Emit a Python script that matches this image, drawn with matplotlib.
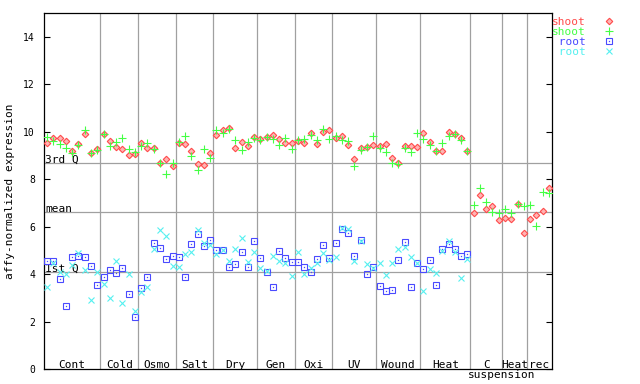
import numpy as np
import matplotlib
matplotlib.use('Agg')
import matplotlib.pyplot as plt
from matplotlib.legend_handler import HandlerTuple

plt.rcParams['font.family'] = 'DejaVu Sans Mono'

groups = ['Cont', 'Cold', 'Osmo', 'Salt', 'Dry', 'Gen', 'Oxi', 'UV', 'Wound',
          'Heat', 'C', 'Heat', 'rec']
group_sizes = [9, 6, 6, 6, 7, 6, 6, 7, 7, 8, 5, 4, 4]

shoot_a = [9.52, 9.75, 9.75, 9.60, 9.19, 9.48, 9.90, 9.10, 9.25,
           9.90, 9.60, 9.35, 9.26, 9.02, 9.07,
           9.52, 9.32, 9.31, 8.67, 8.86, 8.55,
           9.52, 9.48, 9.18, 8.63, 8.59, 9.11,
           9.88, 10.08, 10.16, 9.31, 9.56, 9.38, 9.78,
           9.69, 9.78, 9.87, 9.69, 9.52, 9.52,
           9.59, 9.52, 9.94, 9.48, 9.98, 10.08,
           9.74, 9.83, 9.43, 8.84, 9.31, 9.35, 9.43,
           9.40, 9.48, 8.90, 8.67, 9.40, 9.40, 9.36,
           9.95, 9.57, 9.19, 9.19, 9.99, 9.91, 9.74, 9.19,
           6.56, 7.32, 6.73, 6.86, 6.27,
           6.38, 6.34, 6.94, 5.72,
           6.34, 6.48, 6.66, 7.62]

shoot_b = [9.78, 9.60, 9.48, 9.32, 9.11, 9.43, 10.07, 9.10, 9.24,
           9.90, 9.40, 9.56, 9.74, 9.25, 9.14,
           9.39, 9.52, 9.26, 8.70, 8.22, 8.69,
           9.57, 9.80, 8.98, 8.38, 9.25, 8.90,
           10.07, 9.94, 10.12, 9.66, 9.22, 9.56, 9.73,
           9.64, 9.77, 9.69, 9.45, 9.74, 9.26,
           9.64, 9.69, 9.87, 9.64, 10.11, 9.69,
           9.83, 9.64, 9.60, 8.55, 9.22, 9.36, 9.81,
           9.31, 9.14, 8.67, 8.64, 9.31, 9.14, 9.94,
           9.69, 9.43, 9.19, 9.52, 9.83, 9.90, 9.64, 9.19,
           6.90, 7.62, 7.03, 6.61, 6.56,
           6.73, 6.56, 6.94, 6.86,
           6.90, 6.02, 7.45, 7.41]

nan = np.nan
root_a = [4.54, 4.54, 3.78, 2.64, 4.71, 4.78, 4.71, 4.33, 3.53,
          3.87, 4.16, 4.03, 4.24, 3.15, 2.18,
          3.40, 3.87, 5.30, 5.09, 4.62, 4.75,
          4.71, 3.87, 5.26, 5.68, 5.17, 5.43,
          5.02, 5.00, 4.29, 4.41, 4.92, 4.29, 5.38,
          4.67, 4.08, 3.44, 4.96, 4.67, 4.50,
          4.50, 4.29, 4.08, 4.62, 5.21, 4.67,
          5.30, 5.90, 5.72, 4.75, 5.43, 3.99, 4.29,
          3.49, 3.28, 3.32, 4.58, 5.34, 3.44, 4.46,
          4.20, 4.58, 3.53, 5.05, 5.26, 5.05, 4.75, 4.84,
          nan, nan, nan, nan, nan, nan, nan, nan, nan, nan, nan, nan, nan]

root_b = [3.44, 4.46, 4.08, 3.99, 4.37, 4.88, 4.16, 2.90, 4.08,
          3.57, 2.98, 4.54, 2.77, 3.99, 2.43,
          3.23, 3.44, 5.05, 5.85, 5.59, 4.33,
          4.29, 4.84, 4.92, 5.85, 5.30, 5.21,
          4.84, 5.02, 4.54, 5.05, 5.51, 4.50, 4.92,
          4.24, 4.12, 4.75, 4.54, 4.46, 3.91,
          4.92, 3.99, 4.24, 4.46, 4.88, 4.58,
          4.71, 5.93, 5.89, 4.54, 5.38, 4.41, 4.24,
          4.46, 3.95, 4.46, 5.05, 5.13, 4.71, 4.46,
          3.28, 4.20, 4.03, 4.96, 5.38, 4.92, 3.82, 4.62,
          nan, nan, nan, nan, nan, nan, nan, nan, nan, nan, nan, nan, nan]

quant_vals = [8.69, 6.61, 4.08]
quant_labels = ['3rd Q', 'mean', '1st Q']

red = '#ff4a4a'
green = '#44ff44'
blue = '#4a4aff'
cyan = '#55f0f0'
gray = '#a0a0a0'

n = len(shoot_a)
x = np.arange(n) + 0.5

fig = plt.figure(figsize=(6.4, 3.84), dpi=100)
ax = fig.add_axes([44/640, 15/384, 508/640, 356/384])

bounds = np.cumsum(group_sizes)
for b in bounds[:-1]:
    ax.axvline(b, color=gray, lw=0.9, zorder=1)
for q, lab in zip(quant_vals, quant_labels):
    ax.axhline(q, color=gray, lw=0.9, zorder=1)
    ax.text(0.002, q + 0.02, lab, transform=ax.get_yaxis_transform(),
            ha='left', va='baseline', fontsize=8, zorder=2)

# shoot / root series
h1, = ax.plot(x, shoot_a, ls='none', marker='D', ms=3.3, mfc='#ffb4b4',
              mec=red, mew=0.8, zorder=3)
h2, = ax.plot(x, shoot_b, ls='none', marker='+', ms=5.5, mec=green, mew=0.8, zorder=3)
h3, = ax.plot(x, root_a, ls='none', marker='s', ms=3.9, mfc='none',
              mec=blue, mew=0.8, zorder=3)
h3d, = ax.plot(x, root_a, ls='none', marker='s', ms=0.9, mfc=blue, mec=blue,
               mew=0, zorder=3)
h4, = ax.plot(x, root_b, ls='none', marker='x', ms=4, mec=cyan, mew=0.8, zorder=3)

starts = np.concatenate([[0], bounds[:-1]])
for s, e, g in zip(starts, bounds, groups):
    ax.text((s + e) / 2, 0.004, g, transform=ax.get_xaxis_transform(),
            ha='center', va='baseline', fontsize=8)
ax.text(bounds[9] + 5, -0.026, 'suspension', transform=ax.get_xaxis_transform(),
        ha='center', va='baseline', fontsize=8)

ax.set_xlim(0, n)
ax.set_ylim(0, 15)
ax.set_xticks([])
ax.set_yticks(range(0, 15, 2))
ax.tick_params(axis='y', direction='in', length=4.3, width=0.8, right=True,
               labelsize=7, pad=6.5)
for sp in ax.spines.values():
    sp.set_linewidth(0.9)

fig.text(10/640, 1 - 191/384, 'affy-normalized expression', rotation=90,
         ha='center', va='center', fontsize=8)

leg = ax.legend([h1, h2, (h3, h3d), h4], ['shoot', 'shoot', ' root', ' root'],
                handler_map={tuple: HandlerTuple(ndivide=1)},
                loc='upper left', bbox_to_anchor=(1.0, 0.988),
                frameon=False, markerfirst=False, handlelength=1,
                handletextpad=1.6, labelspacing=0, borderpad=0,
                borderaxespad=0, fontsize=8)
for t, c in zip(leg.get_texts(), [red, green, blue, cyan]):
    t.set_color(c)

fig.savefig('out.png', dpi=100)
